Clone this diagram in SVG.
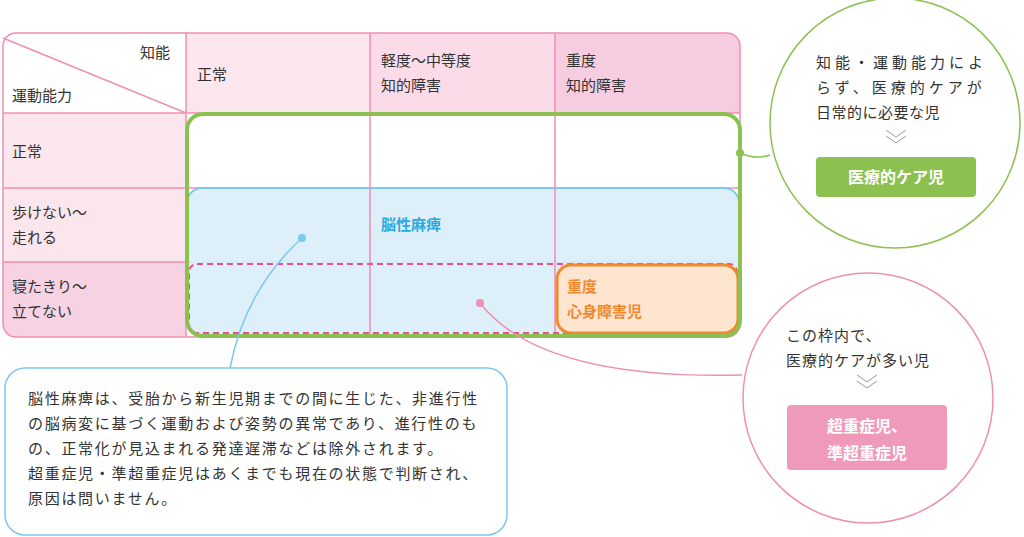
<svg xmlns="http://www.w3.org/2000/svg" width="1024" height="537" viewBox="0 0 1024 537">
<style>
text{font-family:"Noto Sans CJK JP","Noto Sans",sans-serif;font-size:15px;fill:#333}
.g{stroke:#ef8fb3;stroke-width:1.5;fill:none}
.w{fill:#fff;font-size:16px;font-weight:bold}
.n{letter-spacing:1.7px}
</style>
<rect width="1024" height="537" fill="#fff"/>
<g id="table">
<rect x="186" y="33" width="184" height="80" fill="#fce6ee"/>
<rect x="370" y="33" width="185" height="80" fill="#fadbe7"/>
<path d="M555 33H727a13 13 0 0 1 13 13V113H555Z" fill="#f6cde0"/>
<rect x="3" y="113" width="183" height="149" fill="#fce6ee"/>
<path d="M3 262H186V337H16a13 13 0 0 1-13-13Z" fill="#f6d2e2"/>
<rect x="3" y="33" width="737" height="304" rx="13" class="g"/>
<path class="g" d="M186 33V337M370 33V337M555 33V337M3 113H740M3 188H740M3 262H740M3 38L186 113"/>
<text x="140" y="58">知能</text>
<text x="12" y="101">運動能力</text>
<text x="197" y="80">正常</text>
<text x="381" y="66">軽度〜中等度</text>
<text x="381" y="91">知的障害</text>
<text x="566" y="66">重度</text>
<text x="566" y="91">知的障害</text>
<text x="12" y="157">正常</text>
<text x="12" y="218">歩けない〜</text>
<text x="12" y="243">走れる</text>
<text x="12" y="292">寝たきり〜</text>
<text x="12" y="317">立てない</text>
</g>
<g id="cp">
<rect x="187" y="188" width="552" height="147" rx="15" fill="#d9eefa" fill-opacity="0.9" stroke="#7dc8ee" stroke-width="2"/>
<path class="g" d="M370 188V335M555 188V335"/>
<text x="381" y="230" style="fill:#2aa9e0;font-weight:bold">脳性麻痺</text>
</g>
<rect id="dashed" x="189" y="264" width="548" height="69" rx="8" fill="none" stroke="#e8508f" stroke-width="2" stroke-dasharray="6,4"/>
<g id="severe">
<rect x="557" y="265" width="181" height="68" rx="14" fill="#fde5d0" stroke="#f08a30" stroke-width="3"/>
<text x="567" y="292" style="fill:#f08a30;font-weight:bold">重度</text>
<text x="567" y="317" style="fill:#f08a30;font-weight:bold">心身障害児</text>
</g>
<rect id="green" x="187" y="114" width="553" height="222" rx="16" fill="none" stroke="#8cc152" stroke-width="4"/>
<g id="connectors" fill="none">
<path d="M740 153Q755 160 770 155" stroke="#8cc152" stroke-width="1.5"/>
<circle cx="740" cy="153" r="4" fill="#8cc152"/>
<path d="M230 368Q245 290 302 238" stroke="#7dc8ee" stroke-width="1.5"/>
<circle cx="302" cy="238" r="4" fill="#7dc8ee"/>
<path d="M480 303Q540 380 742 375" stroke="#ef8fb3" stroke-width="1.5"/>
<circle cx="480" cy="303" r="4" fill="#ef8fb3"/>
</g>
<g id="circleGreen">
<circle cx="895" cy="123" r="125" fill="#fff" stroke="#8cc152" stroke-width="1.5"/>
<text x="816" y="68" style="letter-spacing:4px">知能・運動能力によ</text>
<text x="816" y="93" style="letter-spacing:4px">らず、医療的ケアが</text>
<text x="816" y="118" style="letter-spacing:0.5px">日常的に必要な児</text>
<path d="M886 130l10 7 10-7M886 136l10 7 10-7" stroke="#999" fill="none"/>
<rect x="816" y="157" width="160" height="40" rx="4" fill="#8cc152"/>
<text x="896" y="183" text-anchor="middle" class="w">医療的ケア児</text>
</g>
<g id="circlePink">
<circle cx="868" cy="398" r="125" fill="#fff" stroke="#ef8fb3" stroke-width="1.5"/>
<text x="786" y="341" style="letter-spacing:1px">この枠内で、</text>
<text x="786" y="366" style="letter-spacing:1px">医療的ケアが多い児</text>
<path d="M857 375l10 7 10-7M857 381l10 7 10-7" stroke="#999" fill="none"/>
<rect x="787" y="405" width="160" height="65" rx="4" fill="#f09abb"/>
<text x="867" y="432" text-anchor="middle" class="w">超重症児、</text>
<text x="867" y="459" text-anchor="middle" class="w">準超重症児</text>
</g>
<g id="note">
<rect x="5" y="368" width="502" height="167" rx="20" fill="#fff" stroke="#7dc8ee" stroke-width="1.5"/>
<text x="28" y="404" class="n">脳性麻痺は、受胎から新生児期までの間に生じた、非進行性</text>
<text x="28" y="429" class="n">の脳病変に基づく運動および姿勢の異常であり、進行性のも</text>
<text x="28" y="454" class="n">の、正常化が見込まれる発達遅滞などは除外されます。</text>
<text x="28" y="479" class="n">超重症児・準超重症児はあくまでも現在の状態で判断され、</text>
<text x="28" y="504" class="n">原因は問いません。</text>
</g>
</svg>
